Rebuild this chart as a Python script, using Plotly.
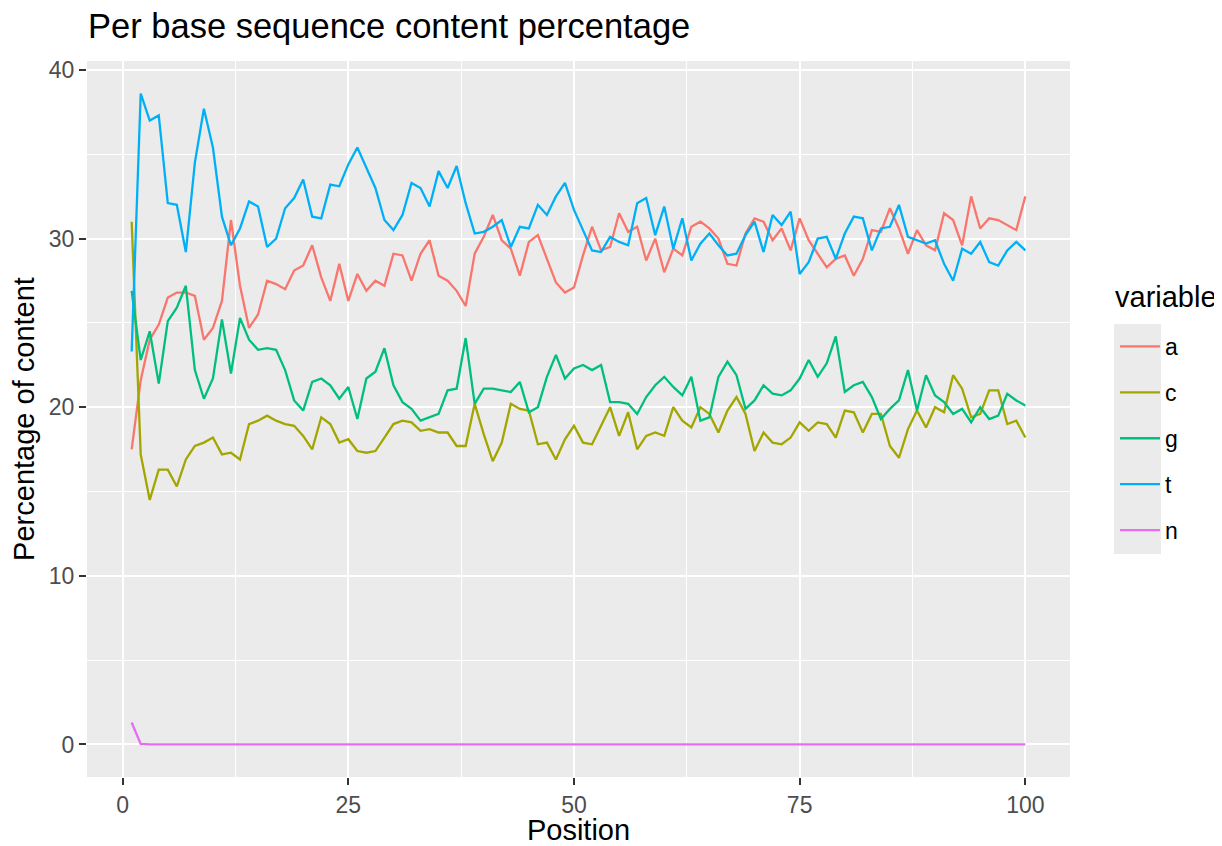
import plotly.graph_objects as go

positions = list(range(1, 101))

a_vals = [17.5, 21.6, 24.0, 24.9, 26.5, 26.8, 26.8, 26.6, 24.0, 24.7,
          26.3, 31.1, 27.2, 24.7, 25.5, 27.5, 27.3, 27.0, 28.1, 28.4,
          29.6, 27.7, 26.3, 28.5, 26.3, 27.9, 26.9, 27.5, 27.2, 29.1,
          29.0, 27.5, 29.1, 29.9, 27.8, 27.5, 26.9, 26.0, 29.1, 30.1,
          31.4, 29.9, 29.4, 27.8, 29.8, 30.2, 28.8, 27.4, 26.8, 27.1,
          29.0, 30.7, 29.3, 29.5, 31.5, 30.4, 30.7, 28.7, 30.0, 28.0,
          29.4, 29.0, 30.7, 31.0, 30.6, 30.0, 28.5, 28.4, 30.3, 31.2,
          31.0, 29.9, 30.6, 29.3, 31.2, 29.9, 29.1, 28.3, 28.8, 29.0,
          27.8, 28.8, 30.5, 30.4, 31.8, 30.6, 29.1, 30.5, 29.6, 29.3,
          31.5, 31.1, 29.6, 32.5, 30.6, 31.2, 31.1, 30.8, 30.5, 32.5]

c_vals = [31.0, 17.2, 14.5, 16.3, 16.3, 15.3, 16.9, 17.7, 17.9, 18.2,
          17.2, 17.3, 16.9, 19.0, 19.2, 19.5, 19.2, 19.0, 18.9, 18.3,
          17.5, 19.4, 19.0, 17.9, 18.1, 17.4, 17.3, 17.4, 18.2, 19.0,
          19.2, 19.1, 18.6, 18.7, 18.5, 18.5, 17.7, 17.7, 20.2, 18.4,
          16.8, 17.9, 20.2, 19.9, 19.8, 17.8, 17.9, 16.9, 18.1, 18.9,
          17.9, 17.8, 18.9, 20.0, 18.3, 19.7, 17.5, 18.3, 18.5, 18.3,
          20.0, 19.2, 18.8, 20.0, 19.6, 18.5, 19.8, 20.6, 19.6, 17.4,
          18.5, 17.9, 17.8, 18.2, 19.1, 18.6, 19.1, 19.0, 18.2, 19.8,
          19.7, 18.5, 19.6, 19.6, 17.7, 17.0, 18.7, 19.8, 18.8, 20.0,
          19.7, 21.9, 21.1, 19.4, 19.6, 21.0, 21.0, 19.0, 19.2, 18.2]

g_vals = [26.9, 22.8, 24.5, 21.4, 25.1, 25.9, 27.2, 22.2, 20.5, 21.7,
          25.2, 22.0, 25.3, 24.0, 23.4, 23.5, 23.4, 22.2, 20.4, 19.8,
          21.5, 21.7, 21.3, 20.5, 21.2, 19.3, 21.7, 22.1, 23.5, 21.3,
          20.3, 19.9, 19.2, 19.4, 19.6, 21.0, 21.1, 24.1, 20.2, 21.1,
          21.1, 21.0, 20.9, 21.5, 19.7, 20.0, 21.8, 23.1, 21.7, 22.3,
          22.5, 22.2, 22.5, 20.3, 20.3, 20.2, 19.6, 20.6, 21.3, 21.8,
          21.2, 20.7, 21.8, 19.2, 19.4, 21.8, 22.7, 21.9, 19.9, 20.4,
          21.3, 20.8, 20.7, 21.0, 21.7, 22.8, 21.8, 22.6, 24.2, 20.9,
          21.3, 21.5, 20.6, 19.3, 19.9, 20.4, 22.2, 19.8, 21.9, 20.7,
          20.3, 19.6, 19.9, 19.1, 20.0, 19.3, 19.5, 20.8, 20.4, 20.1]

t_vals = [23.3, 38.6, 37.0, 37.3, 32.1, 32.0, 29.2, 34.5, 37.7, 35.4,
          31.3, 29.6, 30.6, 32.2, 31.9, 29.5, 30.0, 31.8, 32.4, 33.5,
          31.3, 31.2, 33.2, 33.1, 34.4, 35.4, 34.2, 33.0, 31.1, 30.5,
          31.4, 33.3, 33.0, 31.9, 34.0, 33.0, 34.3, 32.1, 30.3, 30.4,
          30.7, 31.1, 29.5, 30.7, 30.6, 32.0, 31.4, 32.5, 33.3, 31.7,
          30.5, 29.3, 29.2, 30.1, 29.8, 29.6, 32.1, 32.4, 30.2, 31.9,
          29.4, 31.2, 28.7, 29.7, 30.3, 29.6, 29.0, 29.1, 30.2, 31.0,
          29.2, 31.4, 30.8, 31.6, 27.9, 28.6, 30.0, 30.1, 28.8, 30.3,
          31.3, 31.2, 29.3, 30.6, 30.7, 32.0, 30.1, 29.9, 29.7, 29.9,
          28.5, 27.5, 29.4, 29.1, 29.8, 28.6, 28.4, 29.3, 29.8, 29.3]

n_vals = [1.3, 0.03, 0.0, 0.0, 0.0, 0.0, 0.0, 0.0, 0.0, 0.0,
          0.0, 0.0, 0.0, 0.0, 0.0, 0.0, 0.0, 0.0, 0.0, 0.04,
          0.0, 0.0, 0.0, 0.0, 0.0, 0.0, 0.0, 0.0, 0.0, 0.0,
          0.0, 0.0, 0.0, 0.0, 0.0, 0.0, 0.0, 0.0, 0.0, 0.0,
          0.0, 0.0, 0.0, 0.0, 0.0, 0.0, 0.0, 0.0, 0.0, 0.0,
          0.0, 0.0, 0.0, 0.0, 0.0, 0.0, 0.0, 0.0, 0.0, 0.0,
          0.0, 0.0, 0.0, 0.0, 0.0, 0.0, 0.0, 0.0, 0.0, 0.0,
          0.0, 0.0, 0.0, 0.0, 0.0, 0.0, 0.0, 0.0, 0.0, 0.0,
          0.0, 0.0, 0.0, 0.0, 0.0, 0.0, 0.0, 0.0, 0.0, 0.0,
          0.0, 0.0, 0.0, 0.0, 0.0, 0.0, 0.0, 0.0, 0.0, 0.0]

series_names = ["a", "c", "g", "t", "n"]
series_values = [a_vals, c_vals, g_vals, t_vals, n_vals]
series_colors = ["#F8766D", "#A3A500", "#00BF7D", "#00B0F6", "#E76BF3"]

x_ticks = [0, 25, 50, 75, 100]
y_ticks = [0, 10, 20, 30, 40]

FONT = "Liberation Sans, Arial, Helvetica, sans-serif"

# the page body has an 8px margin; work in figure pixels
OFF = 8
W, H = 1222 - OFF, 846 - OFF
L = 87 - OFF
T = 61 - OFF
R = W - (1070 - OFF)
B = H - (777 - OFF)
pw = W - L - R
ph = H - T - B


def px_x(p):
    return (p - OFF - L) / pw


def px_y(p):
    return (H - B - (p - OFF)) / ph


fig = go.Figure()
for name, vals, col in zip(series_names, series_values, series_colors):
    fig.add_trace(go.Scatter(
        x=positions, y=vals, mode="lines", name=name,
        legendgroup=name,
        line=dict(color=col, width=2.3),
    ))

# legend key background (ggplot style)
fig.add_shape(type="rect", xref="paper", yref="paper",
              x0=px_x(1114), x1=px_x(1161), y0=px_y(554), y1=px_y(324),
              fillcolor="#EBEBEB", line=dict(width=0), layer="below")

fig.add_annotation(text="variable", xref="paper", yref="paper",
                   x=px_x(1113), xanchor="left",
                   y=px_y(297), yanchor="middle",
                   showarrow=False,
                   font=dict(size=29, color="black", family=FONT))

fig.update_layout(
    width=W, height=H,
    margin=dict(l=L, r=R, t=T, b=B, autoexpand=False),
    paper_bgcolor="white",
    plot_bgcolor="#EBEBEB",
    font=dict(family=FONT, color="black"),
    title=dict(text="Per base sequence content percentage",
               font=dict(size=34.5, color="black", family=FONT),
               x=(88 - OFF) / W, xanchor="left", xref="container",
               y=1 - (26 - OFF) / H, yanchor="middle", yref="container"),
    xaxis=dict(
        range=[-3.95, 104.95], tickmode="array", tickvals=x_ticks,
        ticktext=[str(v) for v in x_ticks],
        showgrid=True, gridcolor="white", gridwidth=2.2,
        zeroline=False, showline=False,
        ticks="outside", ticklen=7, tickwidth=2, tickcolor="#333333",
        tickfont=dict(size=23, color="#4D4D4D", family=FONT),
        minor=dict(tickvals=[12.5, 37.5, 62.5, 87.5], showgrid=True,
                   gridcolor="white", gridwidth=1.1, ticklen=0),
        title=dict(text="Position", font=dict(size=29, color="black", family=FONT),
                   standoff=2),
    ),
    yaxis=dict(
        range=[-1.93, 40.53], tickmode="array", tickvals=y_ticks,
        ticktext=[str(v) for v in y_ticks],
        showgrid=True, gridcolor="white", gridwidth=2.2,
        zeroline=False, showline=False,
        ticks="outside", ticklen=7, tickwidth=2, tickcolor="#333333",
        tickfont=dict(size=23, color="#4D4D4D", family=FONT),
        minor=dict(tickvals=[5, 15, 25, 35], showgrid=True,
                   gridcolor="white", gridwidth=1.1, ticklen=0),
        title=dict(text="Percentage of content",
                   font=dict(size=29, color="black", family=FONT),
                   standoff=6),
    ),
    legend=dict(
        font=dict(size=23, color="black", family=FONT),
        bgcolor="rgba(0,0,0,0)",
        x=px_x(1115), xanchor="left",
        y=px_y(325), yanchor="top",
        tracegroupgap=13.0,
        itemwidth=40,
    ),
    showlegend=True,
)

fig.write_html("out.html")
